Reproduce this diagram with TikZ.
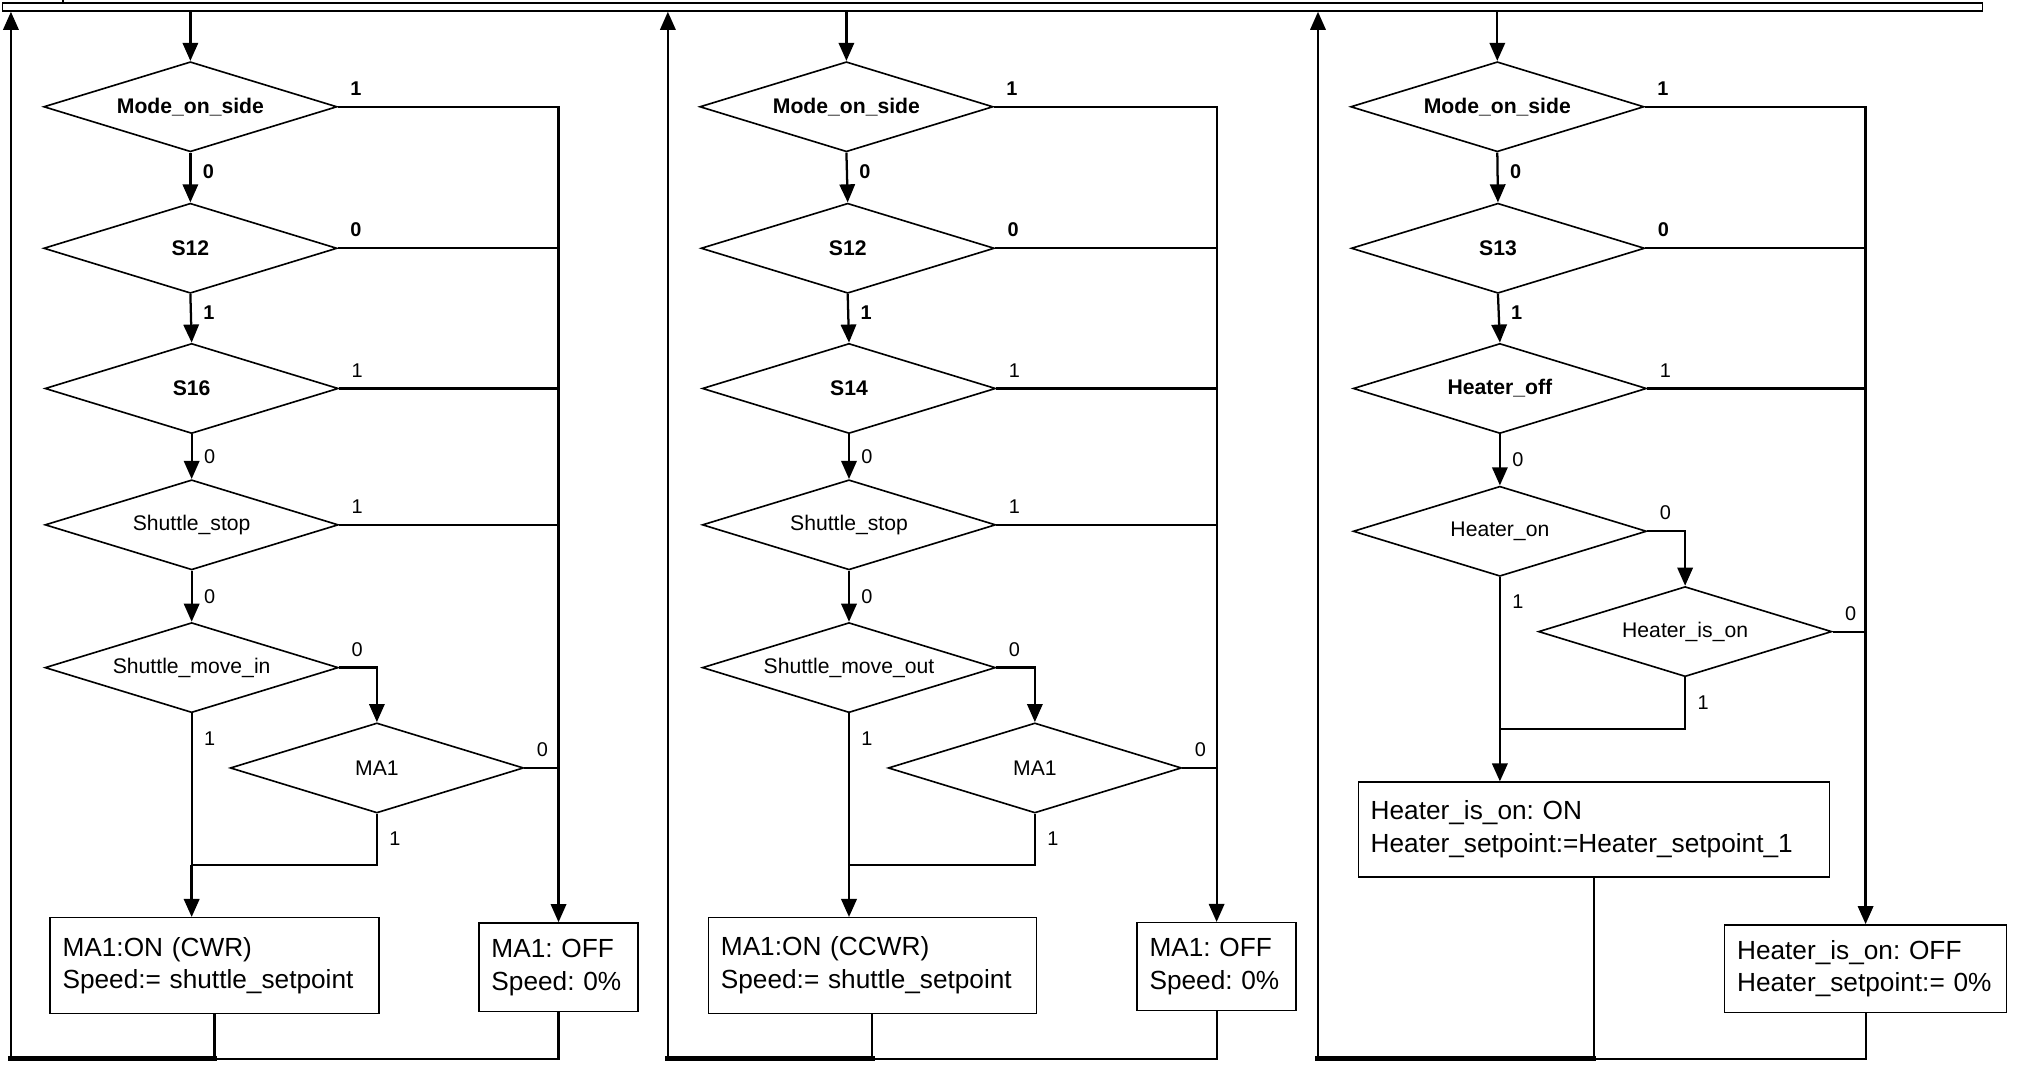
\documentclass[tikz,border=0pt]{standalone}
\usepackage{fontspec}
\setmainfont{Liberation Sans}
\usepackage{tikz}
\usetikzlibrary{shapes,arrows.meta,positioning}
\frenchspacing
\newcommand{\diafont}{\fontsize{11.7}{14}\selectfont}
\newcommand{\actfont}{\fontsize{14.5}{18.1}\selectfont}
\newcommand{\tagfont}{\fontsize{11}{13}\selectfont}
\tikzset{
dia/.style={draw=black, line width=0.9pt, shape=diamond, aspect=3.26, minimum width=5.7cm, minimum height=1.75cm, inner sep=0pt, font=\diafont},
diab/.style={dia, font=\diafont\bfseries},
act/.style={draw=black, line width=0.8pt, rectangle, align=left, inner xsep=0.24cm, inner ysep=0pt, font=\actfont},
bus/.style={draw=black, line width=0.9pt, fill=white, rectangle, inner sep=0pt, minimum width=38.475cm, minimum height=0.15cm},
flow/.style={line width=1.25pt, -{Triangle[length=10pt,width=8.5pt]}},
wire/.style={line width=1.2pt},
fat/.style={line width=2.8pt, line cap=rect},
tag/.style={font=\tagfont, inner sep=0pt},
tagb/.style={tag, font=\tagfont\bfseries},
}
\begin{document}
\begin{tikzpicture}[x=0.025cm, y=-0.025cm]
\useasboundingbox (0,0) rectangle (1568,829);
\node[bus] (bus) at (771.5,5.5) {};
\coordinate (tick) at (49,0);
\draw[line width=0.9pt] (tick |- bus.north) -- (tick);

\node[diab] (modeA) at (148,83) {Mode\_on\_side};
\node[diab] (sA) at (148,193) {S12};
\node[diab] (sensA) at (149,302) {S16};
\node[dia] (stopA) at (149,408) {Shuttle\_stop};
\node[dia] (moveA) at (149,519) {Shuttle\_move\_in};
\node[dia] (maA) at (293,597) {MA1};
\node[act, text width=5.9075cm, minimum height=1.8625cm] (onA) at (166.8,750.7) {MA1:ON (CWR)\\Speed:= shuttle\_setpoint};
\node[act, text width=2.6075cm, minimum height=1.725cm] (offA) at (434.2,752) {MA1: OFF\\Speed: 0\%};
\coordinate (jA) at (149,672.5);
\coordinate (retA) at (8.5,823);

\draw[flow] (bus.south -| modeA.north) -- (modeA.north);
\draw[flow] (modeA.south) -- node[tagb, pos=0.38, anchor=west, xshift=0.22cm] (qA1) {0} (sA.north);
\draw[flow] (sA.south) -- node[tagb, pos=0.38, anchor=west, xshift=0.22cm] (qA2) {1} (sensA.north);
\draw[flow] (sensA.south) -- node[tag, midway, anchor=west, xshift=0.22cm] (qA3) {0} (stopA.north);
\draw[flow] (stopA.south) -- node[tag, midway, anchor=west, xshift=0.22cm] (qA4) {0} (moveA.north);
\draw[flow] (modeA.east) -- node[tagb, pos=0, anchor=south west, xshift=0.22cm, yshift=0.2cm] (qA5) {1} (modeA.east -| offA.north) -- (offA.north);
\draw[wire] (sA.east) -- node[tagb, pos=0, anchor=south west, xshift=0.22cm, yshift=0.2cm] (qA6) {0} (sA.east -| offA.north);
\draw[wire] (sensA.east) -- node[tag, pos=0, anchor=south west, xshift=0.22cm, yshift=0.2cm] (qA7) {1} (sensA.east -| offA.north);
\draw[wire] (stopA.east) -- node[tag, pos=0, anchor=south west, xshift=0.22cm, yshift=0.2cm] (qA8) {1} (stopA.east -| offA.north);
\draw[flow] (moveA.east) -- node[tag, pos=0, anchor=south west, xshift=0.22cm, yshift=0.2cm] (qA9) {0} (moveA.east -| maA.north) -- (maA.north);
\draw[wire] (maA.east) -- node[tag, pos=0, anchor=south west, xshift=0.22cm, yshift=0.2cm] (qA10) {0} (maA.east -| offA.north);
\draw[wire] (moveA.south) -- node[tag, pos=0, anchor=north west, xshift=0.22cm, yshift=-0.33cm] (qA11) {1} (jA);
\draw[wire] (maA.south) -- node[tag, pos=0, anchor=north west, xshift=0.22cm, yshift=-0.33cm] (qA12) {1} (maA.south |- jA) -- (jA);
\draw[flow, line width=1.5pt] (jA) -- (jA |- onA.north);
\draw[wire] (offA.south) |- (onA.south |- retA);
\draw[wire] (onA.south) -- (onA.south |- retA);
\draw[fat] (onA.south |- retA) -- (retA);
\draw[flow] (retA) -- (retA |- bus.south);

\node[diab] (modeB) at (658,83) {Mode\_on\_side};
\node[diab] (sB) at (659,193) {S12};
\node[diab] (sensB) at (660,302) {S14};
\node[dia] (stopB) at (660,408) {Shuttle\_stop};
\node[dia] (moveB) at (660,519) {Shuttle\_move\_out};
\node[dia] (maB) at (804.5,597) {MA1};
\node[act, text width=5.8875cm, minimum height=1.8575cm] (onB) at (678.2,750.6) {MA1:ON (CCWR)\\Speed:= shuttle\_setpoint};
\node[act, text width=2.6075cm, minimum height=1.71cm] (offB) at (945.8,751.5) {MA1: OFF\\Speed: 0\%};
\coordinate (jB) at (660,672.5);
\coordinate (retB) at (519.2,823);

\draw[flow] (bus.south -| modeB.north) -- (modeB.north);
\draw[flow] (modeB.south) -- node[tagb, pos=0.38, anchor=west, xshift=0.22cm] (qB1) {0} (sB.north);
\draw[flow] (sB.south) -- node[tagb, pos=0.38, anchor=west, xshift=0.22cm] (qB2) {1} (sensB.north);
\draw[flow] (sensB.south) -- node[tag, midway, anchor=west, xshift=0.22cm] (qB3) {0} (stopB.north);
\draw[flow] (stopB.south) -- node[tag, midway, anchor=west, xshift=0.22cm] (qB4) {0} (moveB.north);
\draw[flow] (modeB.east) -- node[tagb, pos=0, anchor=south west, xshift=0.22cm, yshift=0.2cm] (qB5) {1} (modeB.east -| offB.north) -- (offB.north);
\draw[wire] (sB.east) -- node[tagb, pos=0, anchor=south west, xshift=0.22cm, yshift=0.2cm] (qB6) {0} (sB.east -| offB.north);
\draw[wire] (sensB.east) -- node[tag, pos=0, anchor=south west, xshift=0.22cm, yshift=0.2cm] (qB7) {1} (sensB.east -| offB.north);
\draw[wire] (stopB.east) -- node[tag, pos=0, anchor=south west, xshift=0.22cm, yshift=0.2cm] (qB8) {1} (stopB.east -| offB.north);
\draw[flow] (moveB.east) -- node[tag, pos=0, anchor=south west, xshift=0.22cm, yshift=0.2cm] (qB9) {0} (moveB.east -| maB.north) -- (maB.north);
\draw[wire] (maB.east) -- node[tag, pos=0, anchor=south west, xshift=0.22cm, yshift=0.2cm] (qB10) {0} (maB.east -| offB.north);
\draw[wire] (moveB.south) -- node[tag, pos=0, anchor=north west, xshift=0.22cm, yshift=-0.33cm] (qB11) {1} (jB);
\draw[wire] (maB.south) -- node[tag, pos=0, anchor=north west, xshift=0.22cm, yshift=-0.33cm] (qB12) {1} (maB.south |- jB) -- (jB);
\draw[flow, line width=1.5pt] (jB) -- (jB |- onB.north);
\draw[wire] (offB.south) |- (onB.south |- retB);
\draw[wire] (onB.south) -- (onB.south |- retB);
\draw[fat] (onB.south |- retB) -- (retB);
\draw[flow] (retB) -- (retB |- bus.south);

\node[diab] (modeC) at (1164,83) {Mode\_on\_side};
\node[diab] (sC) at (1164.5,193) {S13};
\node[diab] (hoffC) at (1166,302) {Heater\_off};
\node[dia] (honC) at (1166,413) {Heater\_on};
\node[dia] (hisC) at (1310,491) {Heater\_is\_on};
\node[act, text width=8.67cm, minimum height=1.8425cm] (onC) at (1239,644.9) {Heater\_is\_on: ON\\Heater\_setpoint:=Heater\_setpoint\_1};
\node[act, text width=4.995cm, minimum height=1.7cm] (offC) at (1450.3,753) {Heater\_is\_on: OFF\\Heater\_setpoint:= 0\%};
\coordinate (jC) at (1166,566.8);
\coordinate (retC) at (1024.6,823);

\draw[flow] (bus.south -| modeC.north) -- (modeC.north);
\draw[flow] (modeC.south) -- node[tagb, pos=0.38, anchor=west, xshift=0.22cm] (qC1) {0} (sC.north);
\draw[flow] (sC.south) -- node[tagb, pos=0.38, anchor=west, xshift=0.22cm] (qC2) {1} (hoffC.north);
\draw[flow] (hoffC.south) -- node[tag, midway, anchor=west, xshift=0.22cm] (qC3) {0} (honC.north);
\draw[flow] (modeC.east) -- node[tagb, pos=0, anchor=south west, xshift=0.22cm, yshift=0.2cm] (qC4) {1} (modeC.east -| offC.north) -- (offC.north);
\draw[wire] (sC.east) -- node[tagb, pos=0, anchor=south west, xshift=0.22cm, yshift=0.2cm] (qC5) {0} (sC.east -| offC.north);
\draw[wire] (hoffC.east) -- node[tag, pos=0, anchor=south west, xshift=0.22cm, yshift=0.2cm] (qC6) {1} (hoffC.east -| offC.north);
\draw[flow] (honC.east) -- node[tag, pos=0, anchor=south west, xshift=0.22cm, yshift=0.2cm] (qC7) {0} (honC.east -| hisC.north) -- (hisC.north);
\draw[wire] (hisC.east) -- node[tag, pos=0, anchor=south west, xshift=0.22cm, yshift=0.2cm] (qC8) {0} (hisC.east -| offC.north);
\draw[wire] (honC.south) -- node[tag, pos=0, anchor=north west, xshift=0.22cm, yshift=-0.33cm] (qC9) {1} (jC);
\draw[wire] (hisC.south) -- node[tag, pos=0, anchor=north west, xshift=0.22cm, yshift=-0.33cm] (qC10) {1} (hisC.south |- jC) -- (jC);
\draw[flow, line width=1.5pt] (jC) -- (jC |- onC.north);
\draw[wire] (offC.south) |- (onC.south |- retC);
\draw[wire] (onC.south) -- (onC.south |- retC);
\draw[fat] (onC.south |- retC) -- (retC);
\draw[flow] (retC) -- (retC |- bus.south);
\end{tikzpicture}
\end{document}
